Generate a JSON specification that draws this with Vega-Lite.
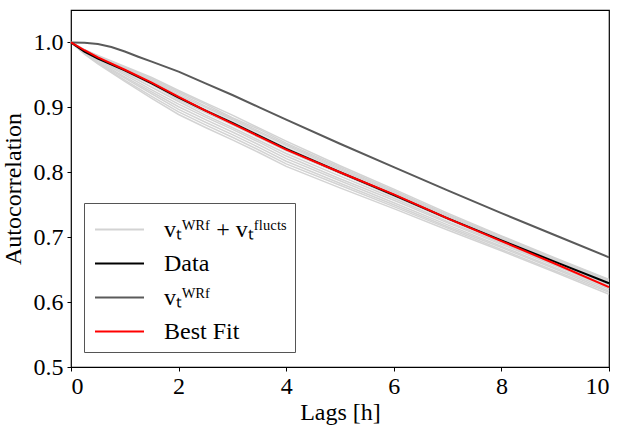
{
  "$schema": "https://vega.github.io/schema/vega-lite/v6.json",
  "width": 538,
  "height": 357,
  "autosize": {"type": "none"},
  "padding": {"left": 71, "top": 10, "right": 12, "bottom": 61},
  "background": "white",
  "config": {
    "font": "Times New Roman",
    "style": {
      "guide-label": {"font": "Times New Roman", "fill": "#000000"},
      "guide-title": {"font": "Times New Roman", "fill": "#000000"}
    },
    "view": {"stroke": "#000000", "strokeWidth": 1.2},
    "axis": {
      "domain": false,
      "grid": false,
      "tickColor": "#000000",
      "tickSize": 4,
      "tickWidth": 1,
      "labelColor": "#000000",
      "labelFont": "Times New Roman",
      "labelFontSize": 24,
      "titleFont": "Times New Roman",
      "titleFontSize": 24,
      "titleFontWeight": "normal",
      "titleColor": "#000000"
    },
    "legend": {
      "orient": "none",
      "legendX": 13,
      "legendY": 193,
      "symbolType": "M-1.4,0H1.4",
      "symbolSize": 1225,
      "symbolStrokeWidth": 2,
      "symbolOffset": 9,
      "labelFont": "Times New Roman",
      "labelFontSize": 24,
      "labelColor": "#000000",
      "labelOffset": 26,
      "padding": 8,
      "rowPadding": 3,
      "strokeColor": "#555555",
      "fillColor": "#ffffff",
      "cornerRadius": 0
    }
  },
  "data": {
    "values": [
      {"x": 0, "Data": 1.0, "Best Fit": 1.0, "e1": 1.0, "e2": 1.0, "e3": 1.0, "e4": 1.0, "e5": 1.0, "e6": 1.0, "e7": 1.0, "e8": 1.0, "e9": 1.0, "e10": 1.0, "e11": 1.0, "e12": 1.0},
      {"x": 0.25, "Data": 0.986, "Best Fit": 0.988, "e1": 0.989, "e2": 0.989, "e3": 0.988, "e4": 0.988, "e5": 0.987, "e6": 0.986, "e7": 0.985, "e8": 0.984, "e9": 0.984, "e10": 0.983, "e11": 0.983, "e12": 0.982},
      {"x": 0.5, "Data": 0.975, "Best Fit": 0.977, "e1": 0.980, "e2": 0.979, "e3": 0.978, "e4": 0.978, "e5": 0.977, "e6": 0.975, "e7": 0.974, "e8": 0.973, "e9": 0.971, "e10": 0.969, "e11": 0.968, "e12": 0.967},
      {"x": 1, "Data": 0.957, "Best Fit": 0.958, "e1": 0.963, "e2": 0.962, "e3": 0.961, "e4": 0.959, "e5": 0.958, "e6": 0.955, "e7": 0.953, "e8": 0.950, "e9": 0.947, "e10": 0.945, "e11": 0.942, "e12": 0.940},
      {"x": 1.5, "Data": 0.937, "Best Fit": 0.938, "e1": 0.946, "e2": 0.944, "e3": 0.942, "e4": 0.941, "e5": 0.939, "e6": 0.935, "e7": 0.931, "e8": 0.927, "e9": 0.924, "e10": 0.921, "e11": 0.917, "e12": 0.914},
      {"x": 2, "Data": 0.915, "Best Fit": 0.916, "e1": 0.926, "e2": 0.924, "e3": 0.922, "e4": 0.919, "e5": 0.917, "e6": 0.912, "e7": 0.909, "e8": 0.905, "e9": 0.901, "e10": 0.897, "e11": 0.893, "e12": 0.889},
      {"x": 2.5, "Data": 0.895, "Best Fit": 0.895, "e1": 0.907, "e2": 0.905, "e3": 0.902, "e4": 0.900, "e5": 0.897, "e6": 0.892, "e7": 0.888, "e8": 0.885, "e9": 0.881, "e10": 0.877, "e11": 0.873, "e12": 0.869},
      {"x": 3, "Data": 0.876, "Best Fit": 0.875, "e1": 0.888, "e2": 0.884, "e3": 0.883, "e4": 0.881, "e5": 0.878, "e6": 0.873, "e7": 0.869, "e8": 0.866, "e9": 0.862, "e10": 0.858, "e11": 0.854, "e12": 0.850},
      {"x": 3.5, "Data": 0.856, "Best Fit": 0.855, "e1": 0.868, "e2": 0.866, "e3": 0.863, "e4": 0.861, "e5": 0.858, "e6": 0.853, "e7": 0.849, "e8": 0.846, "e9": 0.842, "e10": 0.838, "e11": 0.834, "e12": 0.830},
      {"x": 4, "Data": 0.836, "Best Fit": 0.835, "e1": 0.848, "e2": 0.845, "e3": 0.843, "e4": 0.841, "e5": 0.838, "e6": 0.833, "e7": 0.829, "e8": 0.825, "e9": 0.821, "e10": 0.817, "e11": 0.813, "e12": 0.809},
      {"x": 5, "Data": 0.800, "Best Fit": 0.800, "e1": 0.810, "e2": 0.808, "e3": 0.806, "e4": 0.804, "e5": 0.802, "e6": 0.798, "e7": 0.794, "e8": 0.790, "e9": 0.787, "e10": 0.783, "e11": 0.780, "e12": 0.776},
      {"x": 6, "Data": 0.765, "Best Fit": 0.766, "e1": 0.774, "e2": 0.772, "e3": 0.770, "e4": 0.769, "e5": 0.767, "e6": 0.763, "e7": 0.760, "e8": 0.757, "e9": 0.753, "e10": 0.750, "e11": 0.747, "e12": 0.744},
      {"x": 7, "Data": 0.729, "Best Fit": 0.729, "e1": 0.737, "e2": 0.735, "e3": 0.734, "e4": 0.732, "e5": 0.731, "e6": 0.727, "e7": 0.724, "e8": 0.722, "e9": 0.719, "e10": 0.716, "e11": 0.714, "e12": 0.711},
      {"x": 8, "Data": 0.695, "Best Fit": 0.694, "e1": 0.702, "e2": 0.701, "e3": 0.699, "e4": 0.698, "e5": 0.696, "e6": 0.693, "e7": 0.691, "e8": 0.689, "e9": 0.686, "e10": 0.684, "e11": 0.681, "e12": 0.679},
      {"x": 9, "Data": 0.662, "Best Fit": 0.659, "e1": 0.668, "e2": 0.667, "e3": 0.666, "e4": 0.664, "e5": 0.663, "e6": 0.660, "e7": 0.658, "e8": 0.656, "e9": 0.653, "e10": 0.651, "e11": 0.648, "e12": 0.646},
      {"x": 10, "Data": 0.629, "Best Fit": 0.623, "e1": 0.635, "e2": 0.634, "e3": 0.633, "e4": 0.631, "e5": 0.630, "e6": 0.627, "e7": 0.625, "e8": 0.622, "e9": 0.620, "e10": 0.617, "e11": 0.615, "e12": 0.612}
    ]
  },
  "encoding": {
    "x": {
      "field": "x",
      "type": "quantitative",
      "scale": {"domain": [0, 10], "nice": false, "zero": false},
      "axis": {"values": [0, 2, 4, 6, 8, 10], "title": "Lags [h]", "labelFont": "Times New Roman", "titleFont": "Times New Roman", "labelFontSize": 24, "titleFontSize": 24, "labelPadding": 3, "titlePadding": 2}
    },
    "y": {
      "field": "val",
      "type": "quantitative",
      "scale": {"domain": [0.5, 1.05], "nice": false, "zero": false},
      "axis": {"values": [0.5, 0.6, 0.7, 0.8, 0.9, 1.0], "format": ".1f", "title": "Autocorrelation", "labelFont": "Times New Roman", "titleFont": "Times New Roman", "labelFontSize": 24, "titleFontSize": 24, "labelPadding": 4, "titlePadding": 8}
    }
  },
  "layer": [
    {
      "transform": [{"fold": ["e1", "e2", "e3", "e4", "e5", "e6", "e7", "e8", "e9", "e10", "e11", "e12"], "as": ["member", "val"]}],
      "mark": {"type": "line", "strokeWidth": 1.5},
      "encoding": {
        "detail": {"field": "member"},
        "color": {"datum": "vₜᵂᴿᶠ + vₜᶠˡᵘᶜᵗˢ"}
      }
    },
    {
      "data": {
        "values": [
          {"x": 0, "val": 1.0},
          {"x": 0.25, "val": 0.9995},
          {"x": 0.5, "val": 0.9975},
          {"x": 0.75, "val": 0.993},
          {"x": 1, "val": 0.986},
          {"x": 1.25, "val": 0.978},
          {"x": 1.5, "val": 0.9705},
          {"x": 2, "val": 0.955},
          {"x": 2.5, "val": 0.937},
          {"x": 3, "val": 0.919},
          {"x": 3.5, "val": 0.900},
          {"x": 4, "val": 0.881},
          {"x": 5, "val": 0.844},
          {"x": 6, "val": 0.808},
          {"x": 7, "val": 0.772},
          {"x": 8, "val": 0.737},
          {"x": 9, "val": 0.703},
          {"x": 10, "val": 0.669}
        ]
      },
      "mark": {"type": "line", "strokeWidth": 2},
      "encoding": {
        "color": {"datum": "vₜᵂᴿᶠ"}
      }
    },
    {
      "transform": [{"fold": ["Data", "Best Fit"], "as": ["series", "val"]}],
      "mark": {"type": "line", "strokeWidth": 2},
      "encoding": {
        "color": {
          "field": "series",
          "type": "nominal",
          "scale": {
            "domain": ["vₜᵂᴿᶠ + vₜᶠˡᵘᶜᵗˢ", "Data", "vₜᵂᴿᶠ", "Best Fit"],
            "range": ["#d3d3d3", "#000000", "#5a5a5a", "#ff0000"]
          },
          "legend": {"title": null}
        }
      }
    }
  ]
}
